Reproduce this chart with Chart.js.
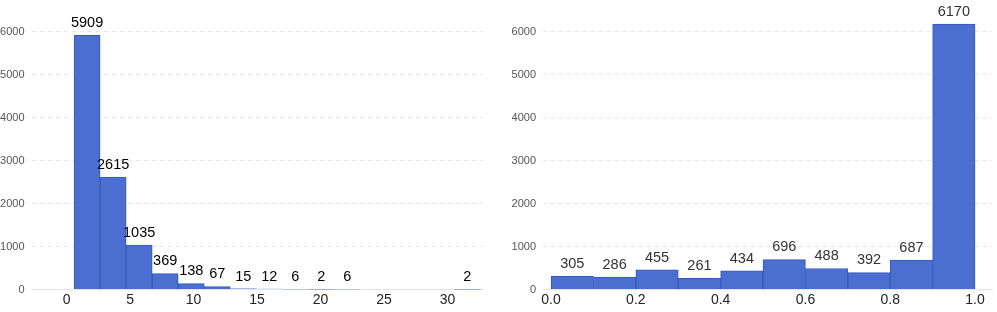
<!DOCTYPE html>
<html>
<head>
<meta charset="utf-8">
<script src="https://cdn.jsdelivr.net/npm/chart.js@4"></script>
<style>
  html, body { margin: 0; padding: 0; background: #fff; }
  #wrap { position: relative; width: 997px; height: 312px; }
  #leftBox { position: absolute; left: 0; top: 0; width: 500px; height: 312px; }
  #rightBox { position: absolute; left: 500px; top: 0; width: 497px; height: 312px; }
</style>
</head>
<body>
<div id="wrap">
  <div id="leftBox"><canvas id="leftChart" width="500" height="312"></canvas></div>
  <div id="rightBox"><canvas id="rightChart" width="497" height="312"></canvas></div>
</div>
<script>
// left histogram - bin centres, counts from the bar labels
const leftCenters = [1.62, 3.67, 5.72, 7.77, 9.82, 11.87, 13.92, 15.97, 18.02, 20.07, 22.12, 31.57];
const leftCounts = [5909, 2615, 1035, 369, 138, 67, 15, 12, 6, 2, 6, 2];
const leftXTicks = [0, 5, 10, 15, 20, 25, 30];

// right histogram - ten bins of 0.1 on 0..1
const rightCenters = [0.05, 0.15, 0.25, 0.35, 0.45, 0.55, 0.65, 0.75, 0.85, 0.95];
const rightCounts = [305, 286, 455, 261, 434, 696, 488, 392, 687, 6170];
const rightXTicks = [0, 0.2, 0.4, 0.6, 0.8, 1.0];

const yTicks = [0, 1000, 2000, 3000, 4000, 5000, 6000];

const barFill = '#4a6fd0';
const barEdge = '#3559bf';

// draws the count above every bar
const barLabels = {
  id: 'barLabels',
  afterDatasetsDraw(chart, args, opts) {
    const ctx = chart.ctx;
    const meta = chart.getDatasetMeta(0);
    const data = chart.data.datasets[0].data;
    ctx.save();
    ctx.font = opts.font;
    ctx.fillStyle = opts.color;
    ctx.textAlign = 'center';
    ctx.textBaseline = 'bottom';
    meta.data.forEach((bar, i) => {
      ctx.fillText(String(data[i].y), bar.x, bar.y - 5);
    });
    ctx.restore();
  }
};

function makeHist(canvasId, centers, counts, xTicks, xMin, xMax, pad, xFmt, labelColor) {
  const ctx = document.getElementById(canvasId).getContext('2d');
  return new Chart(ctx, {
    type: 'bar',
    data: {
      datasets: [{
        data: centers.map((c, i) => ({ x: c, y: counts[i] })),
        backgroundColor: barFill,
        borderColor: barEdge,
        borderWidth: 1,
        barPercentage: 1,
        categoryPercentage: 1,
      }],
    },
    options: {
      responsive: false,
      animation: false,
      devicePixelRatio: 1,
      layout: { padding: pad },
      plugins: {
        legend: { display: false },
        tooltip: { enabled: false },
        barLabels: { font: '14.5px "Liberation Sans", Arial, sans-serif', color: labelColor },
      },
      scales: {
        x: {
          type: 'linear',
          offset: false,
          min: xMin,
          max: xMax,
          afterBuildTicks: (scale) => { scale.ticks = xTicks.map(v => ({ value: v })); },
          afterFit: (scale) => { scale.height = 20; },
          grid: { display: false, drawTicks: false },
          border: { display: true, color: '#e3e3e3', width: 1 },
          ticks: {
            padding: 2,
            color: '#222',
            font: { family: '"Liberation Sans", Arial, sans-serif', size: 14 },
            callback: xFmt,
          },
        },
        y: {
          min: 0,
          max: 6500,
          afterBuildTicks: (scale) => { scale.ticks = yTicks.map(v => ({ value: v })); },
          afterFit: (scale) => { scale.width = 31.5; scale.paddingTop = 0; scale.paddingBottom = 0; },
          grid: { color: '#e8e8e8', drawTicks: false },
          border: { display: false, dash: [4, 4] },
          ticks: {
            padding: 7,
            color: '#555',
            font: { family: '"Liberation Sans", Arial, sans-serif', size: 11 },
            callback: (v) => String(v),
          },
        },
      },
    },
    plugins: [barLabels],
  });
}

makeHist('leftChart', leftCenters, leftCounts, leftXTicks, -2.76, 32.8,
  { top: 10, left: 0, right: 17, bottom: 2.5 }, (v) => String(v), '#000');

makeHist('rightChart', rightCenters, rightCounts, rightXTicks, -0.019, 1.04,
  { top: 10, left: 11.5, right: 5, bottom: 2.5 }, (v) => Number(v).toFixed(1), '#333');
</script>
</body>
</html>
